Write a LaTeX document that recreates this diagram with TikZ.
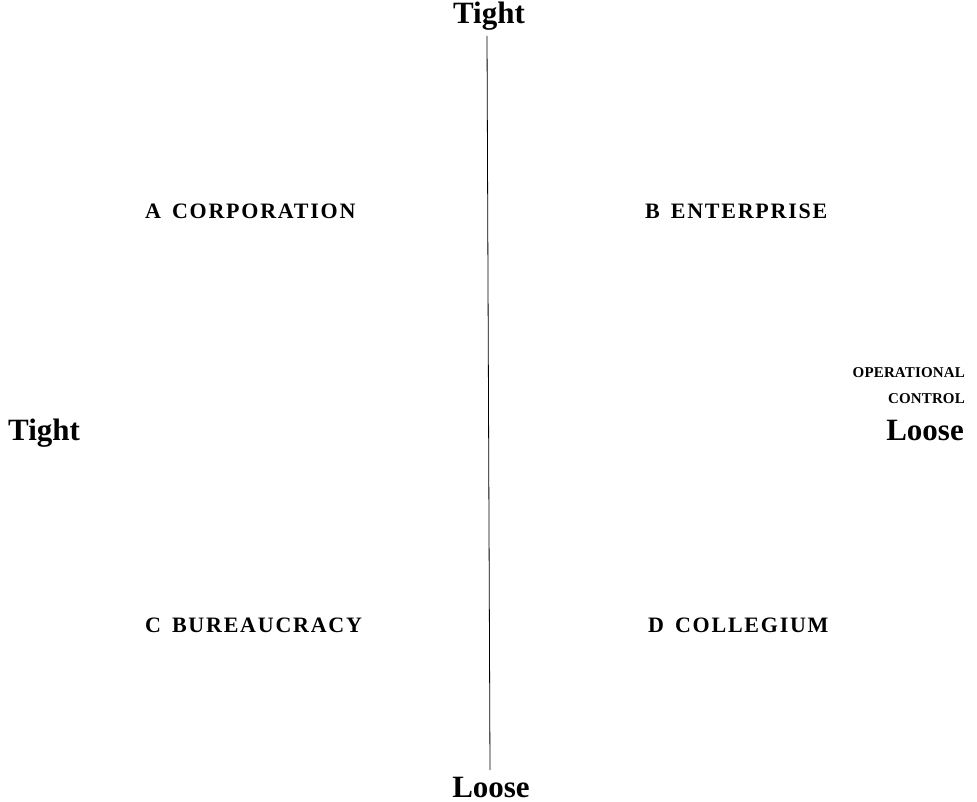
\documentclass[tikz,border=0pt]{standalone}
\usepackage{fontspec}
\setmainfont{Liberation Serif}
\newfontfamily\quadfont[LetterSpace=8]{Liberation Serif}
\newfontfamily\dimfont[LetterSpace=1]{Liberation Serif}
\begin{document}
\begin{tikzpicture}[x=1pt,y=-1pt,
  axislabel/.style={inner sep=0pt,font=\fontsize{31}{31}\selectfont\bfseries},
  quadlabel/.style={inner sep=0pt,font=\quadfont\fontsize{22}{22}\selectfont\bfseries},
  dimlabel/.style={inner sep=0pt,align=right,font=\dimfont\fontsize{15}{26}\selectfont\bfseries}]
\useasboundingbox (0,0) rectangle (977,802);
\node[axislabel,anchor=base] (ttop) at (489,24) {Tight};
\node[axislabel,anchor=base] (lbot) at (491,797) {Loose};
\node[axislabel,anchor=base west] (tleft) at (8,440) {Tight};
\node[axislabel,anchor=base east] (lright) at (964,440) {Loose};
\coordinate (vtop) at (487,36);
\coordinate (vbot) at (490,770);
\draw[line width=0.8pt] (vtop) -- (vbot);
\node[dimlabel,anchor=base east] (opc) at (965,403) {OPERATIONAL\\CONTROL};
\node[quadlabel,anchor=base west] (qa) at (145,219) {A\hspace{0.5em}CORPORATION};
\node[quadlabel,anchor=base west] (qb) at (645,219) {B\hspace{0.5em}ENTERPRISE};
\node[quadlabel,anchor=base west] (qc) at (145,632) {C\hspace{0.5em}BUREAUCRACY};
\node[quadlabel,anchor=base west] (qd) at (648,632) {D\hspace{0.5em}COLLEGIUM};
\end{tikzpicture}
\end{document}
